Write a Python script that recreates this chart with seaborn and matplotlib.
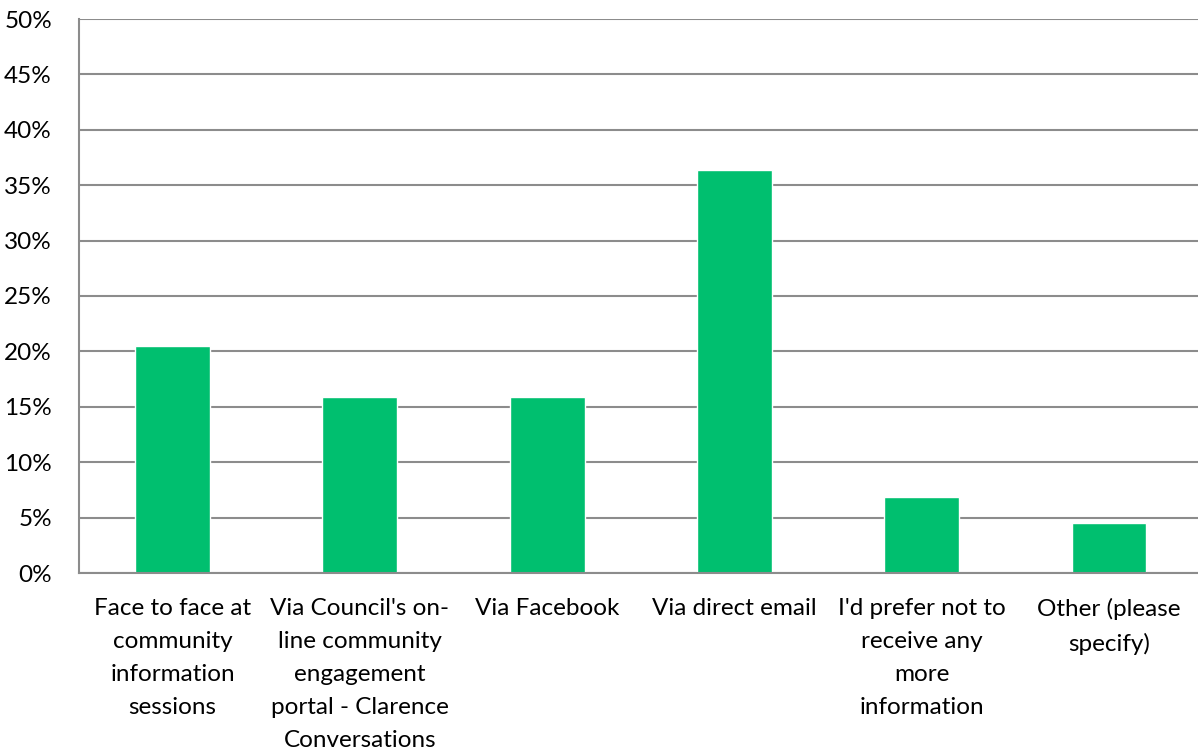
import matplotlib
matplotlib.use("Agg")
import matplotlib.pyplot as plt
from matplotlib.ticker import FixedLocator, PercentFormatter
import seaborn as sns
import pandas as pd

categories = [
    "Face to face at\ncommunity\ninformation\nsessions",
    "Via Council's on-\nline community\nengagement\nportal - Clarence\nConversations",
    "Via Facebook",
    "Via direct email",
    "I'd prefer not to\nreceive any\nmore\ninformation",
    "Other (please\nspecify)",
]
shares = [20.45, 15.91, 15.91, 36.36, 6.82, 4.55]
y_ticks = [0, 5, 10, 15, 20, 25, 30, 35, 40, 45, 50]

df = pd.DataFrame({"category": categories, "share": shares})

sns.set_style("white")
plt.rcParams["font.family"] = ["Lato", "DejaVu Sans"]
plt.rcParams["text.color"] = "black"
plt.rcParams["xtick.color"] = "black"
plt.rcParams["ytick.color"] = "black"

fig = plt.figure(figsize=(11.98, 7.54), dpi=100)
ax = fig.add_axes([79 / 1198, 1 - 573 / 754, 1123.6 / 1198, 554 / 754])

grid_c = "#8c8c8c"
sns.barplot(data=df, x="category", y="share", color="#00bf6f", width=0.4,
            saturation=1, ax=ax, zorder=3)

ax.set_ylim(0, 50)
ax.set_xlim(-0.5, len(categories) - 0.5)
ax.yaxis.set_major_locator(FixedLocator(y_ticks))
ax.yaxis.set_major_formatter(PercentFormatter(decimals=0))
ax.grid(axis="y", color=grid_c, linewidth=1.5, zorder=0)
ax.set_axisbelow(True)

for side in ("top", "right"):
    ax.spines[side].set_visible(False)
for side in ("left", "bottom"):
    ax.spines[side].set_color(grid_c)
    ax.spines[side].set_linewidth(1.5)
    ax.spines[side].set_zorder(4)

ax.set_xlabel("")
ax.set_ylabel("")

ax.set_xticks(range(len(categories)))
ax.set_xticklabels(categories, linespacing=1.71, ha="center", va="top",
                   fontsize=17.5, color="black")

# category boundary ticks below the axis
ax.xaxis.set_minor_locator(FixedLocator([i - 0.5 for i in range(len(categories) + 1)]))
ax.tick_params(axis="x", which="minor", length=5.5, width=1.5, color=grid_c, direction="out")
ax.tick_params(axis="x", which="major", length=0, pad=18)
ax.tick_params(axis="y", which="major", length=5.5, width=1.5, color=grid_c,
               direction="out", pad=14, labelsize=17.5, labelcolor="black")

fig.savefig("out.png", dpi=100)
